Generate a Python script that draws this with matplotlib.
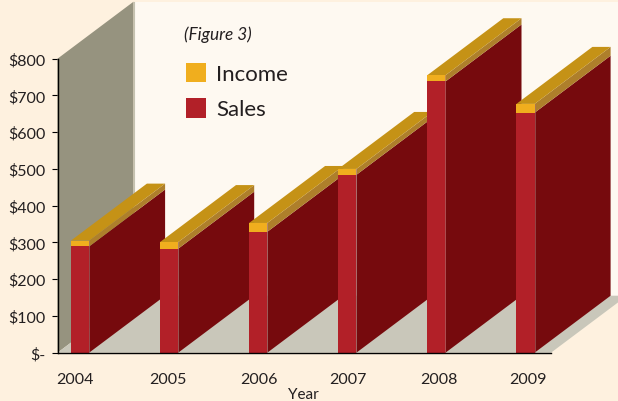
import matplotlib
matplotlib.use("Agg")
import matplotlib.pyplot as plt
from matplotlib.transforms import ScaledTranslation
from matplotlib.patches import Patch

years = ["2004", "2005", "2006", "2007", "2008", "2009"]
sales = [289, 283, 329, 484, 738, 653]
income = [16, 18, 24, 16, 17, 24]
y_ticks = [0, 100, 200, 300, 400, 500, 600, 700, 800]
y_labels = ["$-", "$100", "$200", "$300", "$400", "$500", "$600", "$700", "$800"]

W, H = 618, 402
BG, WALL, BACK, FLOOR = "#FEF1DF", "#96937F", "#FEF9F1", "#C9C7BA"
FRONT_S, FRONT_I = "#B22028", "#F0AE1E"
SIDE_S, SIDE_I, TOP = "#760A0D", "#AE7F2B", "#C59216"
TEXT = "#231F20"

plt.rcParams["font.family"] = ["Lato", "DejaVu Sans"]
fig = plt.figure(figsize=(W / 100, H / 100), dpi=100, facecolor=BG)
L, R, T, B = 57.5, 551, 59.7, 353.7
ax = fig.add_axes([L / W, 1 - B / H, (R - L) / W, (B - T) / H])
ax.set_facecolor("none")

unit = 89.1
x0 = 80.0
ax.set_xlim((L - x0) / unit, (R - x0) / unit)
ax.set_ylim(0, 800)
xl, xr = ax.get_xlim()

# depth of the pseudo-3D box, in data units
dx = 76 / unit
dy = 57 / (294 / 800)
bw = 18.2 / unit

# walls and floor
ax.fill([xl + dx, xr + dx, xr + dx, xl + dx], [dy, dy, 800 + dy, 800 + dy],
        color=BACK, lw=0, clip_on=False, zorder=1)
ax.fill([xl, xl + dx, xl + dx, xl], [0, dy, 800 + dy, 800], color=WALL, lw=0,
        clip_on=False, zorder=2)
ax.plot([xl + dx, xl + dx], [dy, 800 + dy], color="#C4C2B0", lw=0.8, clip_on=False, zorder=2)
ax.fill([xl, xr, xr + dx, xl + dx], [0, 0, dy, dy], color=FLOOR, lw=0,
        clip_on=False, zorder=2)

# bars, painted left to right so nearer fronts cover earlier sides
xs = list(range(len(years)))
z = 3
for x, s, i in zip(xs, sales, income):
    left, right = x - bw / 2, x + bw / 2
    tot = s + i
    ax.fill([right, right + dx, right + dx, right], [0, dy, s + dy, s],
            color=SIDE_S, lw=0, clip_on=False, zorder=z)
    ax.fill([right, right + dx, right + dx, right], [s, s + dy, tot + dy, tot],
            color=SIDE_I, lw=0, clip_on=False, zorder=z)
    ax.fill([left, right, right + dx, left + dx], [tot, tot, tot + dy, tot + dy],
            color=TOP, lw=0, clip_on=False, zorder=z)
    ax.bar(x, s, bw, color=FRONT_S, lw=0, clip_on=False, zorder=z + 0.1)
    ax.bar(x, i, bw, bottom=s, color=FRONT_I, lw=0, clip_on=False, zorder=z + 0.1)
    ax.plot([right, right], [0, tot], color="#A9706F", lw=0.4, clip_on=False, zorder=z + 0.2)
    z += 1

# axes
for sp in ("top", "right"):
    ax.spines[sp].set_visible(False)
for sp in ("left", "bottom"):
    ax.spines[sp].set_color("black")
    ax.spines[sp].set_linewidth(1.0)
    ax.spines[sp].set_zorder(20)
ax.set_yticks(y_ticks, y_labels, fontsize=11.5, color=TEXT)
ax.tick_params(axis="y", length=4.5, width=0.8, pad=4, color="black")
ax.set_xticks(xs, years, fontsize=11.5, color=TEXT)
ax.tick_params(axis="x", length=0, pad=14)
offsets = [-5.5, -1, 1, 1, 2.5, 2]
for lab, off in zip(ax.get_xticklabels(), offsets):
    lab.set_transform(lab.get_transform() + ScaledTranslation(off / 100, 0, fig.dpi_scale_trans))

fig.text(303 / W, 1 - 395 / H, "Year", fontsize=11, color=TEXT, ha="center", va="center")
fig.text(184 / W, 1 - 35 / H, "(Figure 3)", fontsize=12.4, style="italic", color=TEXT,
         ha="left", va="center")

handles = [Patch(color=FRONT_I, lw=0, label="Income"), Patch(color=FRONT_S, lw=0, label="Sales")]
leg = fig.legend(handles=handles, loc="upper left", bbox_to_anchor=(186 / W, 1 - 63.5 / H),
                 frameon=False, fontsize=16, borderpad=0, borderaxespad=0,
                 handlelength=0.9, handleheight=1.0, handletextpad=0.45, labelspacing=0.62)
for t in leg.get_texts():
    t.set_color(TEXT)

fig.savefig("out.png", dpi=100, facecolor=BG)
